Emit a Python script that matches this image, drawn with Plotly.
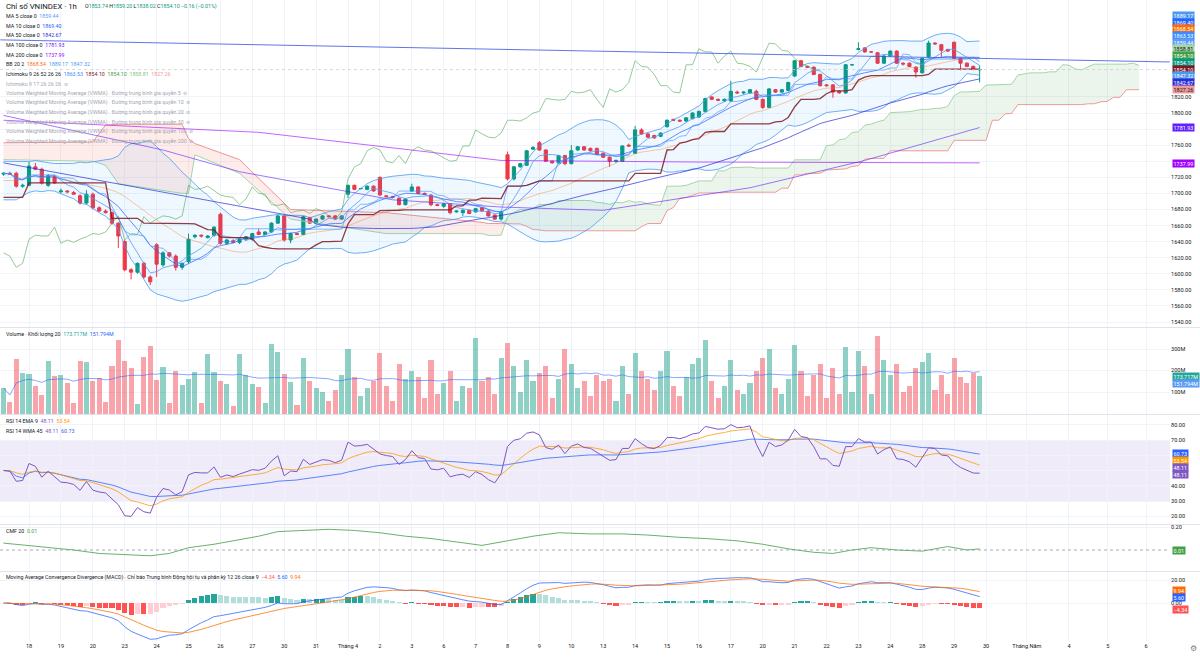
import numpy as np
import pandas as pd
import plotly.graph_objects as go

# ---------------- DATA ----------------
opens = [1724,1725,1725,1709,1710,1733,1730,1710,1721,1702,1703,1701,1697,1688,1699,1682,1678,1676,1663,1640,
         1605,1602,1613,1596,1636,1611,1626,1622,1608,1615,1646,1648,1645,1648,1674,1638,1641,1639,1643,1643,
         1652,1649,1652,1663,1672,1642,1650,1649,1670,1663,1668,1672,1672,1668,1699,1710,1706,1705,1709,1720,
         1697,1696,1694,1686,1703,1708,1700,1698,1686,1684,1687,1677,1676,1679,1677,1682,1678,1673,1668,1748,
         1718,1733,1735,1755,1763,1754,1740,1738,1747,1737,1754,1758,1756,1756,1750,1745,1740,1740,1760,1750,
         1779,1774,1772,1771,1783,1792,1791,1790,1793,1795,1802,1820,1817,1815,1815,1826,1825,1825,1827,1817,
         1807,1829,1826,1828,1846,1865,1858,1857,1848,1835,1835,1827,1825,1860,1879,1881,1876,1875,1862,1871,
         1877,1862,1862,1857,1850,1870,1887,1885,1879,1888,1868,1862,1858,1853.74]
highs = [1726,1727,1727,1712,1739,1738,1732,1724,1723,1706,1704,1703,1699,1704,1701,1684,1680,1677,1664,1642,
         1607,1614,1615,1598,1638,1628,1627,1624,1614,1650,1649,1649,1648,1659,1676,1643,1643,1645,1647,1651,
         1656,1653,1664,1673,1673,1651,1651,1672,1671,1669,1673,1673,1673,1673,1711,1711,1707,1710,1710,1721,
         1698,1697,1695,1694,1712,1709,1701,1699,1687,1688,1688,1679,1680,1680,1682,1683,1679,1674,1678,1752,
         1734,1738,1754,1759,1765,1755,1741,1748,1748,1760,1759,1759,1757,1757,1751,1746,1742,1760,1762,1784,
         1781,1775,1773,1776,1792,1793,1792,1795,1801,1803,1819,1821,1818,1818,1840,1828,1827,1830,1829,1818,
         1831,1830,1830,1839,1866,1866,1859,1858,1849,1836,1836,1828,1861,1861,1888,1882,1877,1876,1872,1878,
         1878,1863,1863,1858,1869,1890,1888,1886,1880,1889,1869,1863,1859,1859.20]
lows = [1722,1723,1707,1707,1709,1729,1711,1708,1712,1700,1700,1698,1686,1686,1680,1677,1675,1661,1632,1603,
        1593,1600,1594,1586,1596,1609,1620,1604,1605,1613,1644,1645,1644,1646,1636,1636,1638,1637,1641,1641,
        1648,1648,1651,1662,1640,1638,1648,1648,1662,1662,1667,1670,1667,1667,1694,1704,1705,1704,1702,1697,
        1695,1694,1685,1685,1702,1699,1698,1684,1684,1682,1674,1676,1672,1674,1676,1677,1671,1667,1666,1716,
        1716,1732,1734,1754,1753,1739,1737,1737,1735,1736,1753,1753,1752,1748,1744,1733,1738,1739,1758,1749,
        1773,1769,1768,1770,1782,1790,1789,1789,1792,1794,1801,1816,1815,1814,1814,1824,1823,1824,1816,1805,
        1806,1825,1825,1827,1845,1857,1856,1847,1833,1833,1819,1824,1824,1859,1878,1875,1875,1861,1861,1870,
        1861,1859,1857,1844,1849,1869,1885,1870,1876,1867,1853,1857,1853,1838.02]
closes = [1725,1724,1709,1710,1734,1730,1713,1722,1713,1703,1702,1699,1688,1699,1682,1678,1676,1663,1647,1605,
          1602,1613,1596,1590,1612,1626,1622,1608,1613,1643,1648,1647,1647,1658,1638,1642,1639,1643,1646,1650,
          1649,1652,1663,1672,1642,1650,1649,1671,1663,1668,1672,1671,1668,1672,1710,1705,1706,1709,1703,1698,
          1696,1695,1686,1693,1708,1700,1699,1686,1685,1687,1676,1678,1679,1675,1681,1678,1672,1668,1677,1718,
          1733,1737,1753,1757,1754,1740,1738,1747,1737,1753,1758,1754,1753,1749,1745,1740,1741,1759,1759,1779,
          1774,1770,1769,1775,1791,1791,1790,1794,1800,1802,1818,1817,1816,1817,1827,1825,1826,1829,1817,1807,
          1830,1826,1829,1838,1865,1858,1857,1848,1834,1834,1826,1825,1860,1860,1880,1876,1876,1862,1871,1877,
          1862,1861,1858,1851,1868,1887,1886,1878,1877,1868,1862,1858,1854.26,1854.10]
volumes_m = [119,53,254,188,183,126,88,246,174,180,144,50,245,239,149,164,53,223,340,242,
             211,45,262,313,157,216,50,200,133,161,192,50,276,192,152,136,37,279,180,136,
             121,50,324,285,184,146,40,
             260,150,120,100,60,110,180,300,170,80, 120,150,280,130,60,230,160,200,170,70,
             250,90,140,200,60,130,120,350,150,170, 90,260,330,220,100,250,150,190,220,70,
             160,300,230,120,150,80,180,150,160,60, 220,90,280,200,160,110,200,290,130,80,
             170,230,260,340,150,70,130,250,110,90, 140,200,260,300,120,90,160,320,200,80,
             180,230,70,210,90,310,100,290,220,90, 360,250,180,230,100,130,210,240,280,110,
             180,90,260,170,140,190,173.717]

# indicator values left of the available history (read anchors)
ma50_left_bars = [0, 24, 48]
ma50_left_vals = [1738, 1703, 1668]
ma100_bars = [0, 25, 37, 61, 78, 94, 117, 135, 153]
ma100_vals = [1797, 1754, 1727, 1692, 1683, 1679, 1707, 1741, 1781.93]
ma200_bars = [0, 40, 78, 109, 153]
ma200_vals = [1791, 1776, 1741, 1739, 1737.99]
cloud_left_bars = [0, 14, 16, 18, 28, 29, 30, 37, 45, 60, 75]
cloud_left_a = [1742, 1740, 1735, 1712, 1700, 1700, 1748, 1725, 1668, 1650, 1650]
cloud_left_b = [1763, 1764, 1785, 1786, 1786, 1768, 1762, 1742, 1680, 1676, 1664]
base_left_bars = [0, 3, 4, 16, 17, 21, 22, 24]
base_left_vals = [1695, 1695, 1713, 1713, 1669, 1669, 1663, 1663]
bb_left_bars = [0, 2]
bb_left_up = [1740, 1740]
bb_left_mid = [1716, 1716]
bb_left_lo = [1692, 1692]
trend_bars = [-0.5, 182.8]
trend_prices = [1891, 1863.5]
last_close = 1854.10

# Chaikin Money Flow
cmf_bars = [0, 4, 7, 11, 15, 19, 23, 26, 29, 33, 37, 40, 43, 47, 51, 55, 59, 63, 67, 71, 75, 79,
            83, 87, 92, 97, 101, 106, 110, 115, 119, 123, 127, 130, 133, 136, 140, 144, 148, 151, 153]
cmf_vals = [0.06, 0.04, 0.02, 0.0, -0.03, -0.04, -0.05, -0.03, 0.02, 0.05, 0.09, 0.12, 0.16, 0.17, 0.18, 0.17,
            0.15, 0.12, 0.10, 0.07, 0.04, 0.08, 0.12, 0.15, 0.14, 0.14, 0.13, 0.11, 0.10, 0.08, 0.05, 0.01,
            -0.02, -0.03, 0.0, 0.02, 0.0, -0.01, 0.03, 0.0, 0.01]

day_labels = ["18","19","20","23","24","25","26","27","30","31","Tháng 4","2","3","6","7","8","9","10",
              "13","14","15","16","17","20","21","22","23","24","28","29","30"]
future_labels = ["Tháng Năm","4","5","6"]
future_label_bars = [160.4, 167.0, 173.1, 179.1]

# legend values (as shown)
ohlc_text = ["1853.74","1859.20","1838.02","1854.10","−0.16 (−0.01%)"]
ma_names = ["MA 5 close 0","MA 10 close 0","MA 50 close 0","MA 100 close 0","MA 200 close 0"]
ma_values = ["1859.44","1869.40","1842.67","1781.93","1737.99"]
bb_values = ["1868.54","1889.17","1847.32"]
ichi_values = ["1863.53","1854.10","1854.10","1858.81","1827.26"]
vwma_lengths = [5, 10, 20, 30, 100, 200]
vol_values = ["173.717M","151.794M"]
rsi1_values = ["48.11","53.54"]
rsi2_values = ["48.11","60.73"]
cmf_value = "0.01"
macd_values = ["−4.34","5.60","9.94"]

main_box_vals = ["1889.17","1869.40","1868.54","1863.53","1859.44","1858.81","1854.10","1854.10",
                 "1854.10","1847.32","1842.67","1827.26","1781.93","1737.99"]
vol_box_vals = ["173.717M","151.794M"]
rsi_box_vals = ["60.73","53.54","48.11","48.11"]
cmf_box_vals = ["0.01"]
macd_box_vals = ["9.94","5.60","−4.34"]

# ---------------- colours ----------------
UP = "#089981"; DN = "#f23645"
C_MA5 = "#5b9cf6"; C_MA10 = "#2962ff"; C_MA50 = "#2a2ed8"; C_MA100 = "#6221ff"; C_MA200 = "#a100ff"
C_BBB = "#ff6d00"; C_BB = "#4b9af0"
C_CONV = "#3d8bfd"; C_BASE = "#801922"; C_LAG = "#43a047"; C_LA = "#a5d6a7"; C_LB = "#ef9a9a"
C_RSI = "#7e57c2"; C_RSIEMA = "#ff9800"; C_RSIWMA = "#2962ff"
TXT = "#131722"; GRID = "#f0f3fa"; FONT = "Roboto"

# ---------------- computations ----------------
n = len(closes)
idx = np.arange(n)
Hh = pd.Series(highs, dtype=float); Ll = pd.Series(lows, dtype=float)
C = pd.Series(closes, dtype=float); V = pd.Series(volumes_m, dtype=float)

ma5 = C.rolling(5, min_periods=1).mean()
ma10 = C.rolling(10, min_periods=1).mean()
ma50c = C.rolling(50).mean()
ma50_x = list(ma50_left_bars) + list(idx[49:])
ma50_y = list(ma50_left_vals) + list(ma50c[49:])

bb_mid = C.rolling(20, min_periods=5).mean()
bb_sd = C.rolling(20, min_periods=5).std(ddof=0)
bb_x = list(bb_left_bars) + list(idx[4:])
bb_up = list(bb_left_up) + list((bb_mid + 2 * bb_sd)[4:])
bb_lo = list(bb_left_lo) + list((bb_mid - 2 * bb_sd)[4:])
bb_md = list(bb_left_mid) + list(bb_mid[4:])

conv = (Hh.rolling(9, min_periods=1).max() + Ll.rolling(9, min_periods=1).min()) / 2
base = (Hh.rolling(26, min_periods=1).max() + Ll.rolling(26, min_periods=1).min()) / 2
base_x = list(base_left_bars) + list(idx[25:])
base_y = list(base_left_vals) + list(base[25:])
spanA_c = (conv + base) / 2
spanB_c = (Hh.rolling(52).max() + Ll.rolling(52).min()) / 2
SH = 25
cloud_x = list(cloud_left_bars) + [j + SH for j in range(51, n)]
cloud_a = list(cloud_left_a) + list(spanA_c[51:])
cloud_b = list(cloud_left_b) + list(spanB_c[51:])
cloud_max = list(np.maximum(np.array(cloud_a), np.array(cloud_b)))

vol_ma = V.rolling(20, min_periods=1).mean()

# Wilder RSI, seeded with neutral averages
ag, al = 4.0, 4.0
rsi_list = [50.0]
for i in range(1, n):
    ch = closes[i] - closes[i - 1]
    ag = (ag * 13 + max(ch, 0)) / 14
    al = (al * 13 + max(-ch, 0)) / 14
    rsi_list.append(100 - 100 / (1 + ag / al) if al > 0 else 100)
rsi = pd.Series(rsi_list)
rsi_ema = rsi.ewm(span=9, adjust=False).mean()
rsi_wma = rsi.rolling(45, min_periods=1).apply(
    lambda a: np.dot(a, np.arange(1, len(a) + 1)) / np.arange(1, len(a) + 1).sum(), raw=True)

ema12 = C.ewm(span=12, adjust=False).mean()
ema26 = C.ewm(span=26, adjust=False).mean()
macd = ema12 - ema26
sig = macd.ewm(span=9, adjust=False).mean()
hist = macd - sig
hist_cols = []
for i in range(n):
    prev = hist[i - 1] if i > 0 else 0
    if hist[i] >= 0:
        hist_cols.append("#26a69a" if hist[i] > prev else "#b2dfdb")
    else:
        hist_cols.append("#ff5252" if hist[i] < prev else "#ffcdd2")

vol_cols = ["rgba(8,153,129,0.45)" if c >= o else "rgba(242,54,69,0.45)" for o, c in zip(opens, closes)]

# ---------------- geometry ----------------
W, H = 1200, 659
ML, MR, MT, MB = 0, 30, 0, 18
PW, PH = W - ML - MR, H - MT - MB
X0, XSTEP = 3.5, 6.38
x_range = [(0 - X0) / XSTEP, (PW - X0) / XSTEP]

def yp(px):
    return (PH - px) / PH

panes = {"main": (0, 327), "vol": (328, 414), "rsi": (415, 524), "cmf": (525, 571), "macd": (572, 641)}

def yrange(top_px, bot_px, ref_val, ref_px, px_per_unit):
    return [ref_val + (ref_px - bot_px) / px_per_unit, ref_val + (ref_px - top_px) / px_per_unit]

r_main = yrange(*panes["main"], 1540, 322, 0.8038)
r_vol = yrange(*panes["vol"], 0, 413.5, 0.215)
r_rsi = yrange(*panes["rsi"], 70, 440, 1.525)
r_cmf = yrange(*panes["cmf"], 0, 550, 115)
r_macd = yrange(*panes["macd"], 0, 603, 1.15)

fig = go.Figure()

# ---- main pane ----
fig.add_trace(go.Scatter(x=cloud_x, y=cloud_b, mode="lines", line=dict(color=C_LB, width=1), xaxis="x", yaxis="y"))
fig.add_trace(go.Scatter(x=cloud_x, y=cloud_max, mode="lines", line=dict(width=0), fill="tonexty",
                         fillcolor="rgba(67,160,71,0.10)", xaxis="x", yaxis="y"))
fig.add_trace(go.Scatter(x=cloud_x, y=cloud_a, mode="lines", line=dict(color=C_LA, width=1), xaxis="x", yaxis="y"))
fig.add_trace(go.Scatter(x=cloud_x, y=cloud_max, mode="lines", line=dict(width=0), fill="tonexty",
                         fillcolor="rgba(244,67,54,0.10)", xaxis="x", yaxis="y"))

fig.add_trace(go.Scatter(x=bb_x, y=bb_up, mode="lines", line=dict(color=C_BB, width=0.8), opacity=0.6, xaxis="x", yaxis="y"))
fig.add_trace(go.Scatter(x=bb_x, y=bb_lo, mode="lines", line=dict(color=C_BB, width=0.8), opacity=0.6,
                         fill="tonexty", fillcolor="rgba(33,150,243,0.07)", xaxis="x", yaxis="y"))
fig.add_trace(go.Scatter(x=bb_x, y=bb_md, mode="lines", line=dict(color=C_BBB, width=0.8), opacity=0.45, xaxis="x", yaxis="y"))

fig.add_trace(go.Scatter(x=ma200_bars, y=ma200_vals, mode="lines", line=dict(color=C_MA200, width=1), opacity=0.6, xaxis="x", yaxis="y"))
fig.add_trace(go.Scatter(x=ma100_bars, y=ma100_vals, mode="lines", line=dict(color=C_MA100, width=1), opacity=0.6, xaxis="x", yaxis="y"))
fig.add_trace(go.Scatter(x=ma50_x, y=ma50_y, mode="lines", line=dict(color=C_MA50, width=1), opacity=0.7, xaxis="x", yaxis="y"))
fig.add_trace(go.Scatter(x=idx[SH:] - SH, y=C[SH:], mode="lines",
                         line=dict(color=C_LAG, width=1), opacity=0.55, xaxis="x", yaxis="y"))
fig.add_trace(go.Scatter(x=idx, y=ma10, mode="lines", line=dict(color=C_MA10, width=1), opacity=0.7, xaxis="x", yaxis="y"))
fig.add_trace(go.Scatter(x=idx, y=ma5, mode="lines", line=dict(color=C_MA5, width=1), opacity=0.8, xaxis="x", yaxis="y"))
fig.add_trace(go.Scatter(x=idx, y=conv, mode="lines", line=dict(color=C_CONV, width=1), opacity=0.6, xaxis="x", yaxis="y"))
fig.add_trace(go.Scatter(x=base_x, y=base_y, mode="lines", line=dict(color=C_BASE, width=1.3), opacity=0.85, xaxis="x", yaxis="y"))
fig.add_trace(go.Scatter(x=trend_bars, y=trend_prices, mode="lines", line=dict(color="#3a55e0", width=1), opacity=0.8, xaxis="x", yaxis="y"))
fig.add_trace(go.Scatter(x=[x_range[0], x_range[1]], y=[last_close, last_close], mode="lines",
                         line=dict(color="#c9cbd1", width=0.7, dash="dot"), xaxis="x", yaxis="y"))
fig.add_trace(go.Candlestick(x=idx, open=opens, high=highs, low=lows, close=closes,
                             increasing=dict(line=dict(color=UP, width=1), fillcolor=UP),
                             decreasing=dict(line=dict(color=DN, width=1), fillcolor=DN),
                             whiskerwidth=0, xaxis="x", yaxis="y"))

# ---- volume ----
fig.add_trace(go.Bar(x=idx, y=V, marker=dict(color=vol_cols, line=dict(width=0)), width=0.8, xaxis="x2", yaxis="y2"))
fig.add_trace(go.Scatter(x=idx, y=vol_ma, mode="lines", line=dict(color="#2962ff", width=1), opacity=0.55, xaxis="x2", yaxis="y2"))

# ---- RSI ----
fig.add_trace(go.Scatter(x=idx, y=rsi_wma, mode="lines", line=dict(color=C_RSIWMA, width=1), opacity=0.75, xaxis="x3", yaxis="y3"))
fig.add_trace(go.Scatter(x=idx, y=rsi_ema, mode="lines", line=dict(color=C_RSIEMA, width=1), opacity=0.75, xaxis="x3", yaxis="y3"))
fig.add_trace(go.Scatter(x=idx, y=rsi, mode="lines", line=dict(color=C_RSI, width=1), xaxis="x3", yaxis="y3"))

# ---- CMF ----
fig.add_trace(go.Scatter(x=cmf_bars, y=cmf_vals, mode="lines", line=dict(color=C_LAG, width=1), opacity=0.8, xaxis="x4", yaxis="y4"))

# ---- MACD ----
fig.add_trace(go.Bar(x=idx, y=hist, marker=dict(color=hist_cols, line=dict(width=0)), width=0.8, xaxis="x5", yaxis="y5"))
fig.add_trace(go.Scatter(x=idx, y=macd, mode="lines", line=dict(color="#2962ff", width=1), opacity=0.75, xaxis="x5", yaxis="y5"))
fig.add_trace(go.Scatter(x=idx, y=sig, mode="lines", line=dict(color="#ff6d00", width=1), opacity=0.75, xaxis="x5", yaxis="y5"))

# ---------------- axes ----------------
tick_bars = [4 + 5 * k for k in range(len(day_labels))] + future_label_bars
tick_text = day_labels + future_labels
tfont = dict(family=FONT, size=5.6, color=TXT)

def xax(anchor, show):
    return dict(domain=[0, 1], range=x_range, anchor=anchor, showticklabels=show, tickvals=tick_bars,
                ticktext=tick_text, tickfont=tfont, showgrid=True, gridcolor=GRID, gridwidth=1,
                zeroline=False, showline=False, ticks="", fixedrange=True,
                rangeslider=dict(visible=False))

def yax(pane, rng, tv, tt):
    t, b = panes[pane]
    return dict(domain=[yp(b), yp(t)], range=rng, side="right", tickvals=tv, ticktext=tt, tickfont=tfont,
                showgrid=True, gridcolor=GRID, zeroline=False, showline=False, ticks="", fixedrange=True)

main_ticks = list(range(1540, 1840, 20))
main_hidden = [1740, 1780]          # covered by value boxes
main_tt = ["" if v in main_hidden else "%.2f" % v for v in main_ticks]
rsi_ticks = [20, 30, 40, 50, 60, 70, 80]
rsi_hidden = [50, 60]
rsi_tt = ["" if v in rsi_hidden else "%.2f" % v for v in rsi_ticks]

layout = dict(
    width=W, height=H, margin=dict(l=ML, r=MR, t=MT, b=MB), paper_bgcolor="white", plot_bgcolor="white",
    showlegend=False, bargap=0, hovermode=False, font=dict(family=FONT, color=TXT),
    xaxis=xax("y", False), xaxis2=dict(xax("y2", False), matches="x"), xaxis3=dict(xax("y3", False), matches="x"),
    xaxis4=dict(xax("y4", False), matches="x"), xaxis5=dict(xax("y5", True), matches="x"),
    yaxis=yax("main", r_main, main_ticks, main_tt),
    yaxis2=yax("vol", r_vol, [100, 200, 300, 400], ["100M", "200M", "300M", "400M"]),
    yaxis3=yax("rsi", r_rsi, rsi_ticks, rsi_tt),
    yaxis4=yax("cmf", r_cmf, [0.2], ["0.20"]),
    yaxis5=yax("macd", r_macd, [20, 0], ["20.00", "0.00"]),
)
fig.update_layout(**layout)

shapes = []
shapes.append(dict(type="rect", xref="x3 domain", yref="y3", x0=0, x1=1, y0=30, y1=70,
                   fillcolor="rgba(126,87,194,0.12)", line=dict(width=0), layer="below"))
shapes.append(dict(type="line", xref="x4 domain", yref="y4", x0=0, x1=1, y0=0, y1=0,
                   line=dict(color="#9598a1", width=0.8, dash="dot")))
for sep in [327.5, 414.5, 524.5, 571.5]:
    shapes.append(dict(type="line", xref="paper", yref="paper", x0=0, x1=W / PW, y0=yp(sep), y1=yp(sep),
                       line=dict(color="#e0e3eb", width=1)))
fig.update_layout(shapes=shapes)

# ---------------- annotations ----------------
ann = []
LF = 5.3

def label(xpx, ypx, text, size=LF, color=TXT):
    ann.append(dict(x=xpx / PW, y=yp(ypx), xref="paper", yref="paper", text=text, showarrow=False,
                    xanchor="left", yanchor="middle", font=dict(family=FONT, size=size, color=color)))

def sp(txt, col):
    return '<span style="color:%s">%s</span>' % (col, txt)

label(4, 6.7, "Chỉ số VNINDEX · 1h", size=7.8)
label(83, 6.7, "O" + sp(ohlc_text[0], UP) + " H" + sp(ohlc_text[1], UP) + " L" + sp(ohlc_text[2], UP) +
      " C" + sp(ohlc_text[3], UP) + " " + sp(ohlc_text[4], UP), size=LF)
ma_cols = [C_MA5, C_MA10, C_MA50, C_MA100, C_MA200]
row_y = [16, 25.7, 35.3, 45.0, 54.6, 64.3, 73.9, 83.5, 93.1, 102.8, 112.4, 122.0, 131.7, 141.3]
for k in range(5):
    label(4, row_y[k], ma_names[k] + "  " + sp(ma_values[k], ma_cols[k]))
label(4, row_y[5], "BB 20 2  " + sp(bb_values[0], C_BBB) + "  " + sp(bb_values[1], C_BB) + "  " + sp(bb_values[2], C_BB))
label(4, row_y[6], "Ichimoku 9 26 52 26 26  " + sp(ichi_values[0], C_CONV) + "  " + sp(ichi_values[1], C_BASE) + "  " +
      sp(ichi_values[2], C_LAG) + "  " + sp(ichi_values[3], "#81c784") + "  " + sp(ichi_values[4], C_LB))
label(4, row_y[7], "Ichimoku 9 17 26 26 26  ⊘", color="#a3a6af")
for k, ln in enumerate(vwma_lengths):
    label(4, row_y[8 + k], "Volume Weighted Moving Average (VWMA) · Đường trung bình gia quyền %d  ⊘" % ln, color="#a3a6af")

label(4, 334, "Volume · Khối lượng 20  " + sp(vol_values[0], "#26a69a") + "  " + sp(vol_values[1], "#2962ff"))
label(4, 420.5, "RSI 14 EMA 9  " + sp(rsi1_values[0], C_RSI) + "  " + sp(rsi1_values[1], C_RSIEMA))
label(4, 430.5, "RSI 14 WMA 45  " + sp(rsi2_values[0], C_RSI) + "  " + sp(rsi2_values[1], C_RSIWMA))
label(4, 531, "CMF 20  " + sp(cmf_value, C_LAG))
label(4, 577, "Moving Average Convergence Divergence (MACD) · Chỉ báo Trung bình Động hội tụ và phân kỳ 12 26 close 9  " +
      sp(macd_values[0], "#ff5252") + "  " + sp(macd_values[1], "#2962ff") + "  " + sp(macd_values[2], "#ff6d00"))

def box(ypx, text, bg, fg="white"):
    ann.append(dict(x=1, y=yp(ypx), xref="paper", yref="paper", text=text, showarrow=False, xanchor="left",
                    yanchor="middle", xshift=2, bgcolor=bg, borderpad=0.6,
                    font=dict(family=FONT, size=5.4, color=fg)))

main_box_y = [15, 22, 29, 36, 42.5, 49, 55.7, 62.3, 69, 75.7, 82.3, 89, 127, 163]
main_box_cols = [C_BB, C_MA10, C_BBB, C_CONV, C_MA5, C_LA, C_LAG, UP, C_BASE, C_BB, C_MA50, C_LB, C_MA100, C_MA200]
main_box_fg = ["white"] * 5 + [TXT] + ["white"] * 5 + [TXT, "white", "white"]
for yv, t, c, f in zip(main_box_y, main_box_vals, main_box_cols, main_box_fg):
    box(yv, t, c, f)
for yv, t, c in zip([376, 383], vol_box_vals, ["#26a69a", "#5b9cf6"]):
    box(yv, t, c)
for yv, t, c in zip([453, 460, 467, 474], rsi_box_vals, [C_RSIWMA, C_RSIEMA, C_RSI, C_RSI]):
    box(yv, t, c)
box(550, cmf_box_vals[0], C_LAG)
for yv, t, c in zip([590, 597, 609.5], macd_box_vals, ["#ff6d00", "#2962ff", "#ff5252"]):
    box(yv, t, c)

ann.append(dict(x=1, y=yp(648), xref="paper", yref="paper", text="⚙", showarrow=False, xanchor="left",
                yanchor="middle", xshift=18, font=dict(family="DejaVu Sans", size=8, color="#787b86")))
fig.update_layout(annotations=ann)

fig.write_html("out.html")
